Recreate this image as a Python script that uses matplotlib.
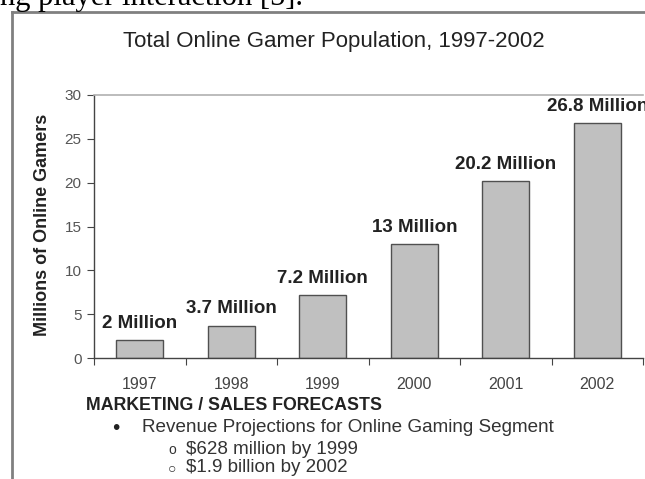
import matplotlib
matplotlib.use("Agg")
import matplotlib.pyplot as plt
from matplotlib.lines import Line2D

years = ["1997", "1998", "1999", "2000", "2001", "2002"]
gamers = [2.0, 3.7, 7.2, 13.0, 20.2, 26.8]
bar_labels = ["2 Million", "3.7 Million", "7.2 Million", "13 Million", "20.2 Million", "26.8 Million"]
yticks = [0, 5, 10, 15, 20, 25, 30]
title = "Total Online Gamer Population, 1997-2002"
ylabel = "Millions of Online Gamers"
heading = "MARKETING / SALES FORECASTS"
bullet1 = "Revenue Projections for Online Gaming Segment"
sub_bullets = ["$628 million by 1999", "$1.9 billion by 2002"]
top_text = "ng player interaction [5]."

W, H = 645, 479
fig = plt.figure(figsize=(W / 100, H / 100), dpi=100)
plt.rcParams['font.family'] = ['Liberation Sans', 'DejaVu Sans']

def fx(px):
    return px / W

def fy(py):
    return 1 - py / H

AX_L, AX_R, AX_T, AX_B = 94, 643, 95, 358
ax = fig.add_axes([fx(AX_L), fy(AX_B), fx(AX_R) - fx(AX_L), fy(AX_T) - fy(AX_B)])
x = list(range(len(years)))
bars = ax.bar(x, gamers, width=0.51, color="#c0c0c0", edgecolor="#505050", linewidth=1.0)
ax.set_xlim(-0.5, len(years) - 0.5)
ax.set_ylim(0, 30)
ax.set_yticks(yticks)
ax.set_yticklabels([str(t) for t in yticks], fontsize=11, color="#555555")
ax.set_xticks([i - 0.5 for i in range(len(years) + 1)])
ax.set_xticklabels([])
ax.set_xticks(x, minor=True)
ax.set_xticklabels(years, minor=True, fontsize=11.5, color="#444444")
ax.tick_params(axis='x', which='minor', length=0, pad=14)
ax.tick_params(axis='x', which='major', length=5, color="#444444", direction='out')
ax.tick_params(axis='y', length=5, color="#444444", direction='out', pad=4)
for s in ["left", "bottom"]:
    ax.spines[s].set_color("#444444")
    ax.spines[s].set_linewidth(1.0)
ax.spines["top"].set_color("#b0b0b0")
ax.spines["top"].set_linewidth(1.2)
ax.spines["right"].set_visible(False)

for b, lab in zip(bars, bar_labels):
    ax.annotate(lab, (b.get_x() + b.get_width() / 2, b.get_height()),
                xytext=(0, 6), textcoords="offset points", ha="center", va="bottom",
                fontsize=13.5, fontweight="bold", color="#222222", annotation_clip=False)

ax.set_ylabel(ylabel, fontsize=13, fontweight="bold", color="#222222", va="center")
ax.yaxis.set_label_coords((43 - AX_L) / (AX_R - AX_L), (AX_B - 225) / (AX_B - AX_T))

fig.text(fx(334), fy(42), title, ha="center", va="center", fontsize=16, color="#222222")

# frame around chart
fig.add_artist(Line2D([fx(12), fx(12)], [fy(12), fy(479)], color="#808080", lw=2, transform=fig.transFigure))
fig.add_artist(Line2D([fx(12), fx(645)], [fy(12), fy(12)], color="#808080", lw=2, transform=fig.transFigure))

# cut-off document text
fig.text(fx(0), fy(5), top_text, ha="left", va="baseline", fontsize=22,
         family="Liberation Serif", color="black")

fig.text(fx(86), fy(406), heading, ha="left", va="center", fontsize=12.8, fontweight="bold", color="#222222")
fig.text(fx(116), fy(428), "\u2022", ha="center", va="center", fontsize=15, color="#222222")
fig.text(fx(142), fy(428), bullet1, ha="left", va="center", fontsize=13.6, color="#333333")
fig.text(fx(172), fy(450), "o", ha="center", va="center", fontsize=10, color="#333333")
fig.text(fx(172), fy(468), "\u25cb", ha="center", va="center", fontsize=10, color="#333333")
fig.text(fx(186), fy(449), sub_bullets[0], ha="left", va="center", fontsize=13.5, color="#333333")
fig.text(fx(186), fy(467), sub_bullets[1], ha="left", va="center", fontsize=13.5, color="#333333")

fig.savefig("out.png", dpi=100)
